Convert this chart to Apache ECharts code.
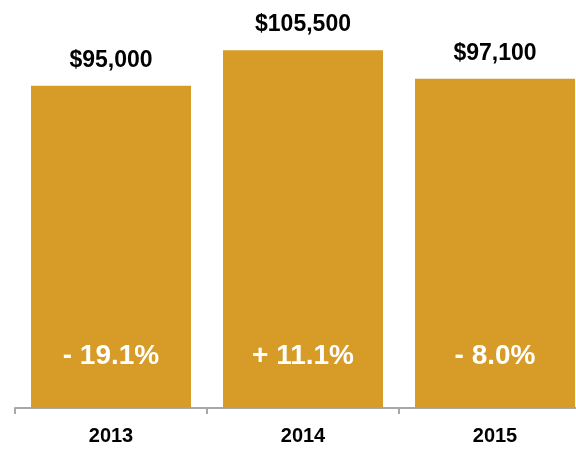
<!DOCTYPE html>
<html>
<head>
<meta charset="utf-8">
<script src="https://cdn.jsdelivr.net/npm/echarts@6/dist/echarts.min.js"></script>
<style>
html,body{margin:0;padding:0;background:#fff;}
#chart{width:576px;height:449px;}
</style>
</head>
<body>
<div id="chart"></div>
<script>
const years = ['2013', '2014', '2015'];
const salaries = [95000, 105500, 97100];
const changes = ['- 19.1%', '+ 11.1%', '- 8.0%'];

const chart = echarts.init(document.getElementById('chart'), null, {renderer: 'canvas'});
const font = '"Liberation Sans", Arial, Helvetica, sans-serif';

chart.setOption({
  animation: false,
  grid: {left: 15, top: 1, right: -15, bottom: 41, containLabel: false, outerBoundsMode: 'none'},
  xAxis: {
    type: 'category',
    data: years,
    axisLine: {lineStyle: {color: '#a8a8a8', width: 2}},
    axisTick: {show: true, length: 6, lineStyle: {color: '#a8a8a8', width: 2}},
    axisLabel: {color: '#000', fontFamily: font, fontWeight: 'bold', fontSize: 20, margin: 18}
  },
  yAxis: {
    type: 'value', min: 0, max: 120000,
    show: false, splitLine: {show: false}
  },
  series: [
    {
      type: 'bar',
      data: salaries,
      barWidth: 160,
      itemStyle: {color: '#D79B28'},
      label: {
        show: true, position: 'top', distance: 14,
        color: '#000', fontFamily: font, fontWeight: 'bold', fontSize: 23,
        formatter: p => '$' + p.value.toLocaleString('en-US')
      }
    },
    {
      type: 'bar',
      data: salaries,
      barWidth: 160,
      barGap: '-100%',
      itemStyle: {color: 'transparent'},
      label: {
        show: true, position: 'insideBottom', distance: 38,
        color: '#fff', fontFamily: font, fontWeight: 'bold', fontSize: 28,
        formatter: p => changes[p.dataIndex]
      },
      silent: true
    }
  ]
});
</script>
</body>
</html>
